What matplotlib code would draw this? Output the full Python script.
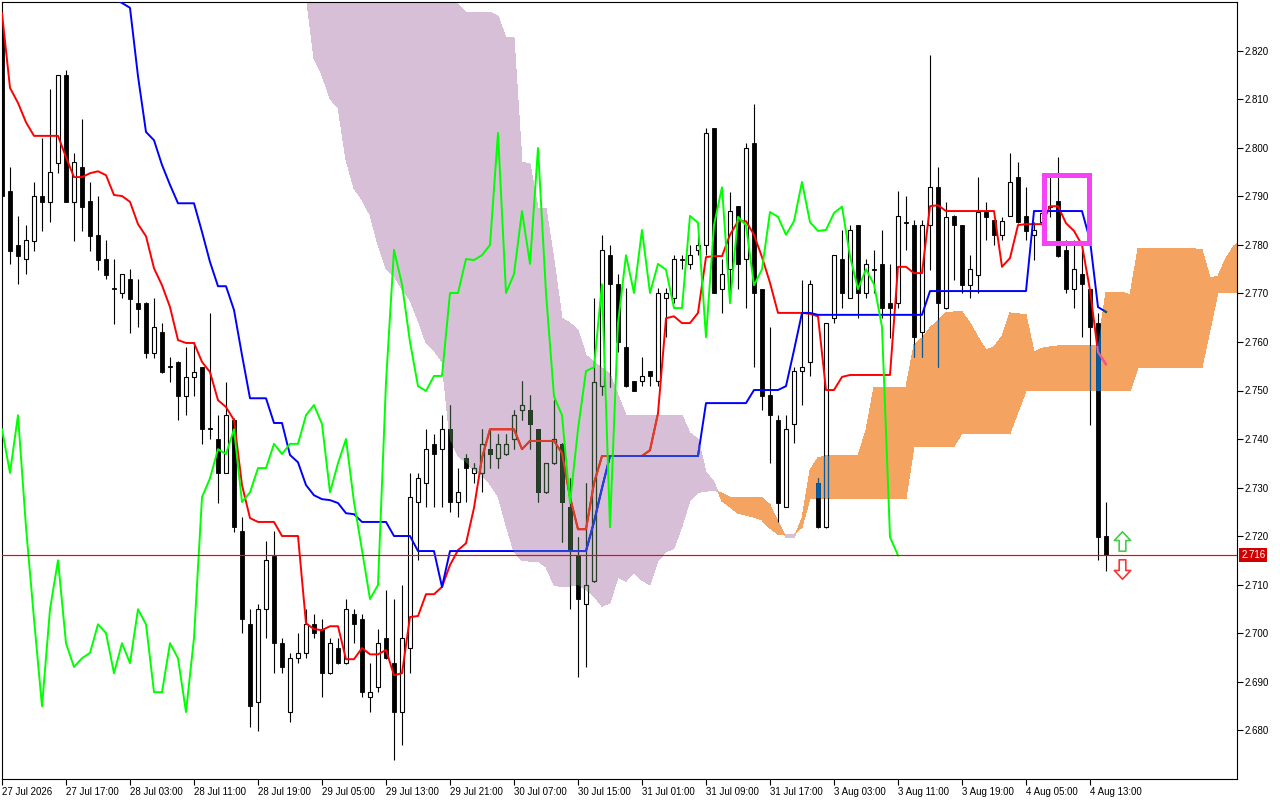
import numpy as np
import matplotlib
matplotlib.use("Agg")
import matplotlib.pyplot as plt
from matplotlib.path import Path
from matplotlib.patches import Rectangle

plt.rcParams['font.family'] = ['Liberation Sans', 'DejaVu Sans']

# ---------------- data (hourly bars) ----------------
opens = [2.8239, 2.7911, 2.7800, 2.7771, 2.7808, 2.7901, 2.7889, 2.7969, 2.8150, 2.7889,
         2.7961, 2.7891, 2.7821, 2.7771, 2.7711, 2.7701, 2.7730, 2.7680, 2.7680, 2.7577,
         2.7620, 2.7550, 2.7559, 2.7488, 2.7528, 2.7548, 2.7422, 2.7400, 2.7330, 2.7439,
         2.7210, 2.7018, 2.6858, 2.7049, 2.7159, 2.6979, 2.6837, 2.6948, 2.6959, 2.7018,
         2.7008, 2.6917, 2.6969, 2.6938, 2.7039, 2.7029, 2.6868, 2.6889, 2.6990, 2.6938,
         2.6837, 2.6969, 2.7270, 2.7309, 2.7390, 2.7379, 2.7420, 2.7270, 2.7361, 2.7330,
         2.7330, 2.7379, 2.7361, 2.7369, 2.7400, 2.7460, 2.7460, 2.7420, 2.7290, 2.7350,
         2.7390, 2.7260, 2.7159, 2.7060, 2.7107, 2.7509, 2.7779, 2.7719, 2.7590, 2.7519,
         2.7519, 2.7540, 2.7519, 2.7691, 2.7691, 2.7771, 2.7761, 2.7790, 2.7800, 2.8041,
         2.7709, 2.7750, 2.7880, 2.7771, 2.8010, 2.7709, 2.7490, 2.7439, 2.7260, 2.7431,
         2.7540, 2.7559, 2.7309, 2.7218, 2.7649, 2.7771, 2.7691, 2.7841, 2.7701, 2.7750,
         2.7761, 2.7680, 2.7680, 2.7847, 2.7841, 2.7620, 2.7841, 2.7919, 2.7670, 2.7860,
         2.7841, 2.7717, 2.7738, 2.7868, 2.7851, 2.7821, 2.7860, 2.7940, 2.7860, 2.7821,
         2.7847, 2.7880, 2.7891, 2.7790, 2.7709, 2.7740, 2.7709, 2.7639, 2.7200]
highs = [2.8247, 2.7961, 2.7860, 2.7841, 2.7930, 2.8020, 2.8122, 2.8150, 2.8161, 2.7990,
         2.8060, 2.7930, 2.7901, 2.7810, 2.7771, 2.7740, 2.7750, 2.7730, 2.7682, 2.7691,
         2.7639, 2.7569, 2.7560, 2.7590, 2.7600, 2.7549, 2.7660, 2.7449, 2.7517, 2.7443,
         2.7239, 2.7049, 2.7060, 2.7190, 2.7210, 2.6990, 2.6959, 2.7000, 2.7049, 2.7039,
         2.7029, 2.6990, 2.6990, 2.7070, 2.7049, 2.7039, 2.6938, 2.7008, 2.7089, 2.7070,
         2.7099, 2.7330, 2.7330, 2.7420, 2.7410, 2.7449, 2.7470, 2.7340, 2.7369, 2.7350,
         2.7420, 2.7420, 2.7410, 2.7410, 2.7460, 2.7519, 2.7490, 2.7421, 2.7350, 2.7480,
         2.7391, 2.7319, 2.7198, 2.7309, 2.7691, 2.7821, 2.7800, 2.7740, 2.7711, 2.7520,
         2.7569, 2.7541, 2.7711, 2.7711, 2.7779, 2.7779, 2.7800, 2.7821, 2.8041, 2.8042,
         2.7771, 2.7909, 2.7881, 2.8010, 2.8091, 2.7710, 2.7631, 2.7449, 2.7449, 2.7548,
         2.7728, 2.7728, 2.7319, 2.7639, 2.7779, 2.7831, 2.7841, 2.7842, 2.7771, 2.7790,
         2.7831, 2.7761, 2.7911, 2.7901, 2.7851, 2.7851, 2.8192, 2.7961, 2.7889, 2.7861,
         2.7842, 2.7779, 2.7940, 2.7889, 2.7852, 2.7858, 2.7990, 2.7971, 2.7919, 2.7847,
         2.7882, 2.7940, 2.7981, 2.7810, 2.7810, 2.7804, 2.7710, 2.7660, 2.7270]
lows = [2.7897, 2.7761, 2.7719, 2.7740, 2.7787, 2.7829, 2.7847, 2.7948, 2.7888, 2.7808,
        2.7829, 2.7787, 2.7748, 2.7730, 2.7637, 2.7691, 2.7618, 2.7631, 2.7567, 2.7567,
        2.7536, 2.7517, 2.7439, 2.7449, 2.7488, 2.7390, 2.7400, 2.7268, 2.7329, 2.7208,
        2.7000, 2.6806, 2.6798, 2.6990, 2.6917, 2.6917, 2.6816, 2.6938, 2.6948, 2.6990,
        2.6868, 2.6916, 2.6937, 2.6937, 2.6979, 2.6868, 2.6837, 2.6878, 2.6947, 2.6738,
        2.6769, 2.6917, 2.7150, 2.7260, 2.7260, 2.7260, 2.7249, 2.7239, 2.7270, 2.7309,
        2.7290, 2.7340, 2.7340, 2.7368, 2.7379, 2.7439, 2.7379, 2.7270, 2.7289, 2.7349,
        2.7187, 2.7049, 2.6909, 2.6930, 2.7106, 2.7490, 2.7507, 2.7579, 2.7507, 2.7498,
        2.7509, 2.7509, 2.7509, 2.7610, 2.7680, 2.7750, 2.7750, 2.7779, 2.7779, 2.7700,
        2.7660, 2.7701, 2.7709, 2.7670, 2.7548, 2.7460, 2.7350, 2.7229, 2.7259, 2.7392,
        2.7470, 2.7530, 2.7217, 2.7217, 2.7639, 2.7670, 2.7690, 2.7649, 2.7691, 2.7701,
        2.7649, 2.7608, 2.7670, 2.7790, 2.7569, 2.7569, 2.7748, 2.7548, 2.7669, 2.7728,
        2.7701, 2.7691, 2.7701, 2.7810, 2.7800, 2.7810, 2.7859, 2.7846, 2.7810, 2.7769,
        2.7802, 2.7858, 2.7776, 2.7701, 2.7670, 2.7610, 2.7429, 2.7150, 2.7128]
closes = [2.7901, 2.7787, 2.7777, 2.7810, 2.7901, 2.7889, 2.7950, 2.8150, 2.7889, 2.7971,
          2.7878, 2.7818, 2.7769, 2.7738, 2.7709, 2.7740, 2.7689, 2.7668, 2.7577, 2.7631,
          2.7538, 2.7548, 2.7488, 2.7528, 2.7538, 2.7420, 2.7420, 2.7330, 2.7449, 2.7218,
          2.7029, 2.6849, 2.7049, 2.7150, 2.6979, 2.6930, 2.6948, 2.6959, 2.7018, 2.7000,
          2.6917, 2.6979, 2.6938, 2.7049, 2.7018, 2.6878, 2.6878, 2.6979, 2.6948, 2.6837,
          2.6990, 2.7280, 2.7319, 2.7379, 2.7369, 2.7420, 2.7270, 2.7290, 2.7340, 2.7340,
          2.7390, 2.7369, 2.7390, 2.7390, 2.7449, 2.7470, 2.7431, 2.7290, 2.7350, 2.7400,
          2.7270, 2.7171, 2.7070, 2.7099, 2.7517, 2.7790, 2.7719, 2.7600, 2.7509, 2.7499,
          2.7530, 2.7530, 2.7701, 2.7701, 2.7771, 2.7769, 2.7779, 2.7800, 2.8031, 2.7701,
          2.7740, 2.7870, 2.7761, 2.8000, 2.7701, 2.7488, 2.7449, 2.7268, 2.7420, 2.7540,
          2.7548, 2.7719, 2.7218, 2.7639, 2.7779, 2.7701, 2.7831, 2.7701, 2.7761, 2.7749,
          2.7670, 2.7670, 2.7860, 2.7846, 2.7610, 2.7841, 2.7919, 2.7680, 2.7858, 2.7841,
          2.7717, 2.7750, 2.7868, 2.7858, 2.7821, 2.7849, 2.7930, 2.7847, 2.7829, 2.7831,
          2.7866, 2.7879, 2.7777, 2.7709, 2.7750, 2.7719, 2.7631, 2.7198, 2.7160]

tenkan = [2.8278, 2.8124, 2.8093, 2.8053, 2.8025, 2.8025, 2.8025, 2.8025, 2.7981, 2.7940,
          2.7940, 2.7948, 2.7952, 2.7944, 2.7903, 2.7901, 2.7889, 2.7843, 2.7818, 2.7752,
          2.7717, 2.7672, 2.7604, 2.7598, 2.7598, 2.7559, 2.7538, 2.7480, 2.7466, 2.7439,
          2.7305, 2.7237, 2.7229, 2.7229, 2.7229, 2.7200, 2.7200, 2.7200, 2.7020, 2.7008,
          2.7006, 2.7014, 2.7014, 2.6946, 2.6946, 2.6969, 2.6956, 2.6956, 2.6965, 2.6913,
          2.6917, 2.7033, 2.7035, 2.7080, 2.7080, 2.7095, 2.7140, 2.7171, 2.7185, 2.7258,
          2.7361, 2.7420, 2.7420, 2.7420, 2.7420, 2.7379, 2.7396, 2.7396, 2.7396, 2.7396,
          2.7371, 2.7280, 2.7214, 2.7214, 2.7309, 2.7365, 2.7365, 2.7365, 2.7365, 2.7365,
          2.7365, 2.7377, 2.7453, 2.7649, 2.7653, 2.7639, 2.7639, 2.7660, 2.7775, 2.7777,
          2.7777, 2.7821, 2.7849, 2.7849, 2.7821, 2.7775, 2.7722, 2.7660, 2.7660, 2.7660,
          2.7660, 2.7658, 2.7653, 2.7501, 2.7501, 2.7528, 2.7532, 2.7532, 2.7532, 2.7532,
          2.7532, 2.7532, 2.7755, 2.7755, 2.7742, 2.7742, 2.7880, 2.7882, 2.7870, 2.7870,
          2.7870, 2.7870, 2.7870, 2.7870, 2.7870, 2.7755, 2.7773, 2.7841, 2.7843, 2.7843,
          2.7843, 2.7880, 2.7880, 2.7845, 2.7829, 2.7800, 2.7707, 2.7579, 2.7554]

kijun = [None, None, None, None, None, None, None, None, None, None,
         None, None, None, None, 2.8308, 2.8299, 2.8289, 2.8148, 2.8033, 2.8016,
         2.7965, 2.7924, 2.7886, 2.7886, 2.7886, 2.7827, 2.7765, 2.7715, 2.7715, 2.7666,
         2.7573, 2.7484, 2.7484, 2.7484, 2.7433, 2.7433, 2.7367, 2.7352, 2.7305, 2.7284,
         2.7276, 2.7274, 2.7268, 2.7247, 2.7245, 2.7229, 2.7229, 2.7229, 2.7229, 2.7200,
         2.7200, 2.7200, 2.7169, 2.7169, 2.7169, 2.7095, 2.7169, 2.7169, 2.7169, 2.7169,
         2.7169, 2.7169, 2.7169, 2.7169, 2.7169, 2.7169, 2.7169, 2.7169, 2.7169, 2.7169,
         2.7169, 2.7169, 2.7169, 2.7169, 2.7229, 2.7299, 2.7365, 2.7365, 2.7365, 2.7365,
         2.7365, 2.7365, 2.7365, 2.7365, 2.7365, 2.7365, 2.7365, 2.7365, 2.7474, 2.7474,
         2.7474, 2.7474, 2.7474, 2.7474, 2.7501, 2.7501, 2.7501, 2.7501, 2.7509, 2.7583,
         2.7660, 2.7660, 2.7656, 2.7656, 2.7656, 2.7656, 2.7656, 2.7656, 2.7656, 2.7656,
         2.7656, 2.7656, 2.7656, 2.7656, 2.7656, 2.7656, 2.7705, 2.7705, 2.7705, 2.7705,
         2.7705, 2.7705, 2.7705, 2.7705, 2.7705, 2.7705, 2.7705, 2.7705, 2.7705, 2.7870,
         2.7870, 2.7870, 2.7870, 2.7870, 2.7870, 2.7870, 2.7810, 2.7672, 2.7662]

# Senkou spans, already displaced forward (first value belongs to bar 38)
span_start = 38
span_a = [2.8315, 2.8185, 2.8150, 2.8101, 2.8084, 2.7975, 2.7917, 2.7893, 2.7862, 2.7800,
          2.7752, 2.7736, 2.7709, 2.7686, 2.7645, 2.7598, 2.7583, 2.7559, 2.7398, 2.7365,
          2.7352, 2.7336, 2.7326, 2.7307, 2.7282, 2.7222, 2.7167, 2.7150, 2.7148, 2.7148,
          2.7136, 2.7099, 2.7095, 2.7097, 2.7099, 2.7089, 2.7076, 2.7055, 2.7062, 2.7115,
          2.7107, 2.7124, 2.7109, 2.7099, 2.7150, 2.7167, 2.7175, 2.7220, 2.7274, 2.7290,
          2.7292, 2.7295, 2.7288, 2.7280, 2.7280, 2.7280, 2.7280, 2.7280, 2.7264, 2.7229,
          2.7196, 2.7196, 2.7237, 2.7336, 2.7361, 2.7365, 2.7365, 2.7365, 2.7365, 2.7365,
          2.7418, 2.7507, 2.7507, 2.7507, 2.7507, 2.7507, 2.7594, 2.7608, 2.7629, 2.7645,
          2.7660, 2.7662, 2.7662, 2.7639, 2.7610, 2.7583, 2.7590, 2.7612, 2.7660, 2.7658,
          2.7656, 2.7579, 2.7587, 2.7590, 2.7592, 2.7592, 2.7592, 2.7592, 2.7592, 2.7592,
          2.7703, 2.7703, 2.7703, 2.7697, 2.7792, 2.7792, 2.7792, 2.7792, 2.7792, 2.7792,
          2.7792, 2.7792, 2.7790, 2.7732, 2.7736, 2.7773, 2.7798, 2.7810]
span_b = [2.8350, 2.8350, 2.8350, 2.8350, 2.8350, 2.8350, 2.8350, 2.8350, 2.8350, 2.8350,
          2.8350, 2.8350, 2.8350, 2.8350, 2.8350, 2.8350, 2.8350, 2.8350, 2.8350, 2.8295,
          2.8280, 2.8280, 2.8280, 2.8280, 2.8272, 2.8227, 2.8227, 2.7971, 2.7967, 2.7876,
          2.7876, 2.7769, 2.7649, 2.7639, 2.7625, 2.7573, 2.7559, 2.7546, 2.7534, 2.7490,
          2.7449, 2.7449, 2.7449, 2.7449, 2.7449, 2.7449, 2.7449, 2.7449, 2.7412, 2.7400,
          2.7332, 2.7311, 2.7272, 2.7260, 2.7247, 2.7243, 2.7239, 2.7233, 2.7216, 2.7204,
          2.7202, 2.7204, 2.7218, 2.7278, 2.7278, 2.7278, 2.7278, 2.7278, 2.7278, 2.7278,
          2.7278, 2.7278, 2.7278, 2.7278, 2.7278, 2.7278, 2.7385, 2.7385, 2.7385, 2.7385,
          2.7385, 2.7385, 2.7412, 2.7412, 2.7412, 2.7412, 2.7412, 2.7412, 2.7412, 2.7456,
          2.7499, 2.7499, 2.7499, 2.7499, 2.7499, 2.7499, 2.7499, 2.7499, 2.7499, 2.7499,
          2.7499, 2.7499, 2.7499, 2.7499, 2.7548, 2.7548, 2.7548, 2.7548, 2.7548, 2.7548,
          2.7548, 2.7548, 2.7548, 2.7625, 2.7703, 2.7703, 2.7703, 2.7703]
chikou_shift = 26

time_tick_bars = [0, 8, 16, 24, 32, 40, 48, 56, 64, 72, 80, 88, 96, 104, 112, 120, 128, 136]
time_tick_labels = ["27 Jul 2026", "27 Jul 17:00", "28 Jul 03:00", "28 Jul 11:00", "28 Jul 19:00",
                    "29 Jul 05:00", "29 Jul 13:00", "29 Jul 21:00", "30 Jul 07:00", "30 Jul 15:00",
                    "31 Jul 01:00", "31 Jul 09:00", "31 Jul 17:00", "3 Aug 03:00", "3 Aug 11:00",
                    "3 Aug 19:00", "4 Aug 05:00", "4 Aug 13:00"]
price_ticks = [2.680, 2.690, 2.700, 2.710, 2.720, 2.730, 2.740, 2.750, 2.760, 2.770,
               2.780, 2.790, 2.800, 2.810, 2.820]

box_bars = (130.2, 135.9)
box_prices = (2.7805, 2.7945)
arrow_bar = 140
arrow_up_price = 2.7190
arrow_down_price = 2.7132

# ---------------- figure ----------------
o = np.array(opens); h = np.array(highs); l = np.array(lows); c = np.array(closes)
x = np.arange(len(o))
tk = np.array(tenkan, dtype=float)
kj = np.array(kijun, dtype=float)
sa = np.array(span_a); sb = np.array(span_b)
sx = np.arange(span_start, span_start + len(sa))

fig = plt.figure(figsize=(12.8, 8), dpi=100)
ax = fig.add_axes([2 / 1280, 21 / 800, 1235 / 1280, 777 / 800])
ax.set_xlim(0, 154.375)
ax.set_ylim(2.6699, 2.8301)

PURPLE = '#d8bfd8'
ORANGE = '#f4a460'

purple = ax.fill_between(sx, sa, sb, where=sb >= sa, interpolate=True,
                         facecolor=PURPLE, lw=0, zorder=1, antialiased=False)
orange = ax.fill_between(sx, sa, sb, where=sa >= sb, interpolate=True,
                         facecolor=ORANGE, lw=0, zorder=1, antialiased=False)


def compound(coll):
    ps = coll.get_paths()
    return Path.make_compound_path(*ps)


def draw_candles(color, z, clip=None):
    bull = c > o
    bear = ~bull
    arts = [
        ax.vlines(x[bear], l[bear], h[bear], colors=color, lw=0.8, zorder=z),
        ax.vlines(x[bull], l[bull], o[bull], colors=color, lw=0.8, zorder=z),
        ax.vlines(x[bull], c[bull], h[bull], colors=color, lw=0.8, zorder=z),
    ]
    b1 = ax.bar(x[bear], (o - c)[bear], bottom=c[bear], width=0.62,
                facecolor=color, edgecolor=color, lw=0.6, zorder=z)
    b2 = ax.bar(x[bull], (c - o)[bull], bottom=o[bull], width=0.62,
                facecolor='none', edgecolor=color, lw=0.8, zorder=z)
    arts += list(b1) + list(b2)
    if clip is not None:
        for a in arts:
            a.set_clip_path(clip, ax.transData)


def draw_lines(red, blue, z, clip=None):
    ln1, = ax.plot(x, tk, color=red, lw=1.4, zorder=z)
    ln2, = ax.plot(x, kj, color=blue, lw=1.4, zorder=z)
    if clip is not None:
        ln1.set_clip_path(clip, ax.transData)
        ln2.set_clip_path(clip, ax.transData)


# base layer
draw_candles('black', 2)
draw_lines('#ff0000', '#0000ff', 3)

# inverted colours where the cloud is painted over (MT4 style)
ppath = compound(purple)
opath = compound(orange)
draw_candles('#274027', 4, ppath)
draw_lines('#d84027', '#2740d8', 5, ppath)
draw_candles('#0b5b9f', 4, opath)
draw_lines('#f45b9f', '#0b5b60', 5, opath)

# chikou span
ax.plot(x[:-chikou_shift], c[chikou_shift:], color='#00ff00', lw=1.4, zorder=6)

# bid line and label
last = c[-1]
ax.axhline(last, color='#ff0000', lw=0.85, zorder=7)
ax.annotate(f"{last:.3f}", xy=(1, last), xycoords=('axes fraction', 'data'),
            xytext=(3, 0), textcoords='offset points', ha='left', va='center',
            color='white', fontsize=7,
            bbox=dict(boxstyle='square,pad=0.2', fc='#d00000', ec='none'),
            annotation_clip=False)

# highlight box
ax.add_patch(Rectangle((box_bars[0], box_prices[0]), box_bars[1] - box_bars[0],
                       box_prices[1] - box_prices[0], fill=False,
                       ec='#f542f5', lw=3.6, zorder=8, joinstyle='miter'))

# arrows
up_v = [(0, 0.5), (0.42, 0.05), (0.17, 0.05), (0.17, -0.5), (-0.17, -0.5),
        (-0.17, 0.05), (-0.42, 0.05), (0, 0.5)]
up_marker = Path(up_v, closed=True)
down_marker = Path([(a, -b) for a, b in up_v], closed=True)
ax.plot([arrow_bar], [arrow_up_price], marker=up_marker, ms=14, mfc='white',
        mec='#44cc44', mew=1.2, ls='none', zorder=9)
ax.plot([arrow_bar], [arrow_down_price], marker=down_marker, ms=14, mfc='white',
        mec='#ff3333', mew=1.2, ls='none', zorder=9)

# axes styling
for s in ax.spines.values():
    s.set_color('black')
    s.set_linewidth(0.8)
ax.yaxis.tick_right()
ax.set_yticks(price_ticks)
ax.set_yticklabels([f"{p:.3f}" for p in price_ticks])
ax.tick_params(axis='y', right=True, left=False, length=4, width=0.8, pad=1.5,
               labelsize=7, colors='black')
ax.set_xticks(time_tick_bars)
ax.set_xticklabels(time_tick_labels, ha='left')
ax.tick_params(axis='x', length=4, width=0.8, pad=1.5, labelsize=7, colors='black')
fig.patch.set_facecolor('white')
ax.set_facecolor('white')

fig.savefig('out.png', dpi=100)
